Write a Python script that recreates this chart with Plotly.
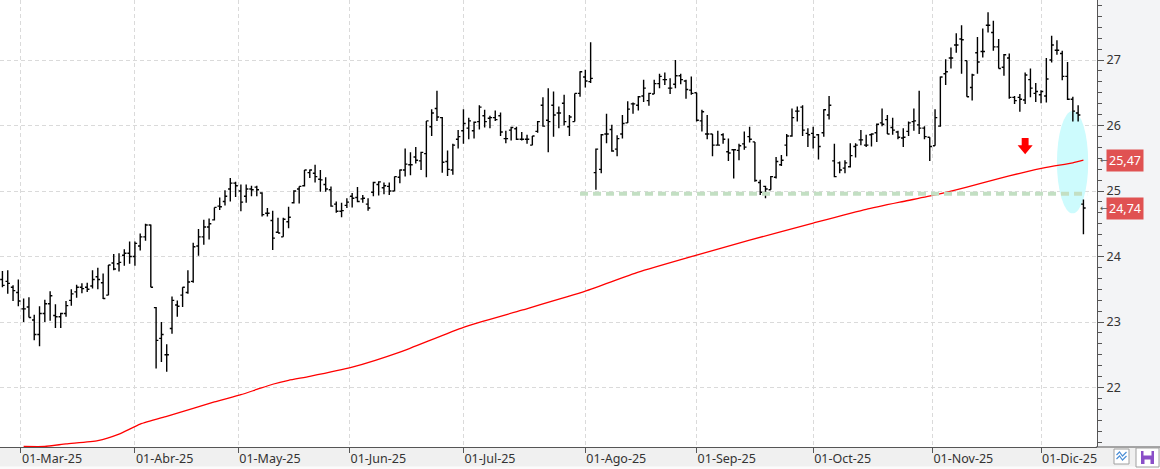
import pandas as pd
import plotly.graph_objects as go

# ---------------- data ----------------
first_session = "2025-02-25"
last_session = "2025-12-11"
market_holidays = ["2025-04-18", "2025-04-21", "2025-05-01"]

opens = [23.65, 23.62, 23.53, 23.45, 23.20, 23.23, 23.03, 22.81, 23.13, 23.28,
         23.10, 23.08, 23.13, 23.33, 23.46, 23.53, 23.53, 23.55, 23.69, 23.60,
         23.41, 23.90, 23.89, 24.02, 24.05, 24.00, 24.16, 24.30, 24.48, 23.22,
         22.75, 22.50, 22.90, 23.26, 23.41, 23.45, 23.62, 24.16, 24.30, 24.45,
         24.56, 24.77, 24.84, 25.03, 25.12, 25.00, 24.92, 25.03, 25.06, 24.97,
         24.66, 24.55, 24.37, 24.30, 24.53, 24.82, 25.03, 25.08, 25.28, 25.27,
         25.18, 25.10, 25.02, 24.80, 24.69, 24.78, 24.92, 24.90, 24.88, 24.80,
         24.98, 25.10, 25.05, 25.07, 25.00, 25.21, 25.32, 25.40, 25.52, 25.46,
         25.57, 25.98, 26.26, 26.12, 25.45, 25.32, 25.79, 25.92, 25.96, 25.92,
         26.06, 26.15, 26.11, 26.12, 26.15, 25.80, 25.93, 25.95, 25.79, 25.79,
         25.70, 25.91, 26.31, 26.08, 26.31, 26.19, 26.34, 25.98, 26.06, 26.49,
         26.74, 26.67, 25.28, 25.33, 25.87, 25.94, 25.64, 25.87, 26.04, 26.33,
         26.31, 26.45, 26.38, 26.48, 26.64, 26.70, 26.57, 26.63, 26.76, 26.68,
         26.54, 26.50, 26.07, 25.87, 25.87, 25.70, 25.86, 25.60, 25.63, 25.62,
         25.72, 25.83, 25.75, 25.13, 25.07, 25.02, 25.21, 25.40, 25.70, 25.84,
         26.22, 26.28, 25.88, 25.88, 25.86, 25.89, 26.16, 25.46, 25.43, 25.35,
         25.37, 25.68, 25.78, 25.70, 25.86, 25.89, 26.04, 26.09, 25.97, 25.90,
         25.81, 25.91, 26.06, 26.01, 25.96, 25.82, 25.69, 25.99, 26.79, 27.03,
         27.23, 27.32, 26.99, 26.58, 27.11, 27.13, 27.53, 27.42, 27.20, 26.89,
         27.03, 26.43, 26.43, 26.39, 26.70, 26.49, 26.47, 26.45, 27.00, 27.15,
         27.10, 26.75, 26.40, 26.19, 24.80]
highs = [23.78, 23.79, 23.56, 23.65, 23.36, 23.38, 23.11, 23.24, 23.34, 23.47,
         23.27, 23.14, 23.32, 23.50, 23.57, 23.59, 23.60, 23.79, 23.83, 23.74,
         23.87, 24.04, 24.05, 24.11, 24.23, 24.23, 24.35, 24.50, 24.49, 23.23,
         23.00, 22.66, 23.39, 23.33, 23.53, 23.79, 24.21, 24.42, 24.56, 24.58,
         24.75, 24.90, 25.01, 25.20, 25.14, 25.10, 25.10, 25.08, 25.08, 24.98,
         24.74, 24.70, 24.59, 24.59, 24.76, 25.01, 25.07, 25.32, 25.33, 25.40,
         25.32, 25.21, 25.07, 24.84, 24.82, 24.89, 24.97, 25.06, 24.94, 24.89,
         25.14, 25.15, 25.13, 25.13, 25.22, 25.33, 25.65, 25.59, 25.67, 25.60,
         26.07, 26.25, 26.53, 26.13, 25.62, 25.72, 25.93, 26.25, 26.12, 26.06,
         26.31, 26.24, 26.15, 26.23, 26.20, 25.92, 25.98, 25.98, 25.90, 25.86,
         25.84, 26.07, 26.43, 26.57, 26.52, 26.29, 26.47, 26.16, 26.49, 26.83,
         26.85, 27.27, 25.65, 25.87, 26.18, 26.01, 25.85, 26.16, 26.37, 26.35,
         26.45, 26.70, 26.50, 26.70, 26.79, 26.81, 26.72, 27.00, 26.79, 26.70,
         26.75, 26.50, 26.24, 26.16, 25.87, 25.92, 25.88, 25.80, 25.64, 25.72,
         25.91, 25.98, 25.75, 25.17, 25.08, 25.23, 25.52, 25.55, 25.87, 26.26,
         26.29, 26.31, 25.96, 25.98, 25.87, 26.25, 26.45, 25.72, 25.45, 25.47,
         25.73, 25.73, 25.93, 25.86, 25.88, 26.03, 26.26, 26.16, 26.12, 25.92,
         25.96, 26.06, 26.26, 26.53, 25.99, 25.82, 26.25, 26.75, 27.01, 27.19,
         27.41, 27.53, 26.99, 26.79, 27.35, 27.48, 27.73, 27.60, 27.32, 27.09,
         27.10, 26.45, 26.48, 26.81, 26.87, 26.65, 26.54, 27.03, 27.37, 27.30,
         27.14, 26.97, 26.44, 26.31, 24.87]
lows = [23.53, 23.43, 23.32, 23.24, 23.00, 23.07, 22.72, 22.63, 23.00, 23.02,
        22.91, 22.91, 23.08, 23.25, 23.37, 23.44, 23.46, 23.51, 23.50, 23.35,
        23.41, 23.79, 23.77, 23.86, 23.89, 23.86, 24.09, 24.24, 23.53, 22.29,
        22.39, 22.24, 22.82, 23.08, 23.23, 23.43, 23.60, 24.01, 24.18, 24.26,
        24.55, 24.71, 24.78, 24.84, 24.91, 24.69, 24.82, 24.92, 24.92, 24.61,
        24.61, 24.10, 24.36, 24.30, 24.43, 24.81, 24.81, 25.07, 25.20, 25.13,
        24.99, 24.99, 24.76, 24.67, 24.60, 24.74, 24.75, 24.83, 24.82, 24.70,
        24.92, 24.93, 24.95, 24.94, 25.00, 25.12, 25.22, 25.24, 25.42, 25.32,
        25.21, 25.84, 26.07, 25.28, 25.23, 25.25, 25.65, 25.72, 25.79, 25.80,
        25.94, 25.97, 25.96, 26.07, 25.84, 25.73, 25.77, 25.78, 25.77, 25.72,
        25.70, 25.89, 25.98, 25.59, 25.83, 25.96, 26.00, 25.84, 26.06, 26.44,
        26.58, 26.65, 25.02, 25.27, 25.73, 25.60, 25.53, 25.80, 26.04, 26.18,
        26.23, 26.36, 26.30, 26.48, 26.57, 26.62, 26.48, 26.57, 26.63, 26.41,
        26.47, 26.06, 25.91, 25.79, 25.53, 25.69, 25.72, 25.46, 25.19, 25.47,
        25.63, 25.74, 25.14, 24.94, 24.89, 25.02, 25.19, 25.38, 25.53, 25.83,
        26.06, 25.84, 25.67, 25.65, 25.48, 25.83, 26.09, 25.21, 25.27, 25.27,
        25.36, 25.51, 25.70, 25.67, 25.68, 25.75, 25.99, 25.87, 25.86, 25.79,
        25.67, 25.84, 25.92, 25.87, 25.79, 25.46, 25.69, 25.98, 26.62, 26.87,
        27.11, 26.79, 26.44, 26.38, 26.79, 27.04, 27.42, 27.14, 26.87, 26.76,
        26.41, 26.33, 26.21, 26.33, 26.43, 26.36, 26.34, 26.35, 26.96, 27.08,
        26.69, 26.39, 26.06, 26.06, 24.34]
closes = [23.56, 23.59, 23.48, 23.32, 23.20, 23.07, 22.81, 23.13, 23.28, 23.40,
          23.08, 23.13, 23.25, 23.43, 23.53, 23.51, 23.50, 23.65, 23.65, 23.36,
          23.87, 23.81, 23.91, 24.05, 24.00, 24.20, 24.30, 24.48, 23.53, 22.72,
          22.81, 22.50, 23.33, 23.24, 23.53, 23.61, 24.15, 24.30, 24.45, 24.50,
          24.75, 24.76, 24.92, 25.12, 25.08, 24.83, 25.03, 25.02, 25.02, 24.64,
          24.66, 24.28, 24.36, 24.57, 24.60, 25.00, 25.07, 25.32, 25.32, 25.22,
          25.17, 25.03, 24.77, 24.69, 24.70, 24.83, 24.89, 24.84, 24.89, 24.74,
          25.13, 25.14, 25.08, 25.00, 25.22, 25.32, 25.41, 25.40, 25.47, 25.59,
          26.07, 26.19, 26.13, 25.44, 25.33, 25.70, 25.83, 26.03, 26.07, 26.05,
          26.28, 26.06, 26.12, 26.09, 25.90, 25.80, 25.97, 25.79, 25.79, 25.79,
          25.84, 26.06, 25.99, 26.06, 26.16, 26.19, 26.06, 26.13, 26.49, 26.82,
          26.68, 26.72, 25.64, 25.86, 25.87, 25.61, 25.80, 26.03, 26.25, 26.33,
          26.44, 26.57, 26.49, 26.64, 26.75, 26.70, 26.57, 26.76, 26.70, 26.55,
          26.49, 26.08, 26.21, 25.87, 25.70, 25.70, 25.79, 25.58, 25.63, 25.69,
          25.67, 25.79, 25.16, 24.98, 25.03, 25.22, 25.45, 25.47, 25.84, 26.12,
          26.22, 25.93, 25.86, 25.82, 25.68, 26.24, 26.31, 25.22, 25.32, 25.43,
          25.54, 25.70, 25.78, 25.70, 25.87, 26.02, 26.02, 25.87, 25.93, 25.82,
          25.82, 26.04, 26.07, 25.96, 25.83, 25.68, 26.12, 26.74, 26.82, 27.03,
          27.23, 27.31, 26.44, 26.77, 26.97, 27.13, 27.53, 27.20, 26.87, 27.08,
          26.43, 26.38, 26.40, 26.77, 26.57, 26.52, 26.52, 26.71, 27.23, 27.15,
          26.75, 26.40, 26.22, 26.16, 24.74]

# long moving average, read at roughly weekly sessions (session number -> value)
ma_day = [4, 8, 12, 18, 22, 26, 31, 36, 40, 45, 48, 51, 54, 58, 66, 75, 87, 98,
          110, 120, 131, 141, 153, 163, 170, 176, 182, 188, 192, 197, 202, 204]
ma_value = [21.10, 21.10, 21.14, 21.19, 21.29, 21.44, 21.56, 21.68, 21.78, 21.89,
            21.97, 22.05, 22.11, 22.17, 22.31, 22.54, 22.92, 23.18, 23.47, 23.76,
            24.02, 24.25, 24.51, 24.72, 24.84, 24.94, 25.06, 25.19, 25.27, 25.36,
            25.43, 25.47]

support_level = 24.96
support_from_day = 109

month_starts = ["2025-03-01", "2025-04-01", "2025-05-01", "2025-06-01", "2025-07-01",
                "2025-08-01", "2025-09-01", "2025-10-01", "2025-11-01", "2025-12-01"]
month_labels = ["01-Mar-25", "01-Abr-25", "01-May-25", "01-Jun-25", "01-Jul-25",
                "01-Ago-25", "01-Sep-25", "01-Oct-25", "01-Nov-25", "01-Dic-25"]

# highlight ellipse and signal arrow (in session / price units)
halo_days = (199.0, 204.9)
halo_prices = (24.66, 26.22)
signal_day = 193.0
signal_top, signal_mid, signal_tip = 25.81, 25.70, 25.56

# ---------------- calendar ----------------
sessions = [d for d in pd.bdate_range(first_session, last_session)
            if d.strftime("%Y-%m-%d") not in market_holidays]
assert len(sessions) == len(closes)
day = list(range(len(sessions)))

tickvals = []
for m in month_starts:
    ts = pd.Timestamp(m)
    i = next(k for k, d in enumerate(sessions) if d >= ts)
    tickvals.append(i if sessions[i] == ts else i - 0.5)

# ---------------- figure ----------------
W, H = 1160, 469
ML, MR, MT, MB = 0, 63, 0, 22
PW, PH = W - ML - MR, H - MT - MB


def px(xp):
    return (xp - ML) / PW


def py(yp):
    return (H - MB - yp) / PH


fig = go.Figure()

fig.add_trace(go.Ohlc(
    x=day, open=opens, high=highs, low=lows, close=closes,
    increasing=dict(line=dict(color="#000000", width=1.4)),
    decreasing=dict(line=dict(color="#000000", width=1.4)),
    tickwidth=0.42, showlegend=False, hoverinfo="skip"))

fig.add_trace(go.Scatter(
    x=ma_day, y=ma_value, mode="lines",
    line=dict(color="#ff0000", width=1.3, shape="spline", smoothing=0.5),
    showlegend=False, hoverinfo="skip"))

fig.add_trace(go.Scatter(
    x=[support_from_day, day[-1] + 0.7], y=[support_level, support_level], mode="lines",
    line=dict(color="#c3dfc3", width=4, dash="8px,5px"), showlegend=False, hoverinfo="skip"))

shapes = []
# right panel
shapes.append(dict(type="rect", xref="paper", yref="paper", x0=1, x1=px(W), y0=0, y1=1,
                   fillcolor="#f3f4f6", line=dict(width=0), layer="below"))
# highlight ellipse
shapes.append(dict(type="circle", xref="x", yref="y", x0=halo_days[0], x1=halo_days[1],
                   y0=halo_prices[0], y1=halo_prices[1], fillcolor="#cdfbfd",
                   line=dict(width=0), layer="between"))
# red down arrow
sw, hw = 0.65, 1.42
arrow = (f"M{signal_day - sw},{signal_top} L{signal_day + sw},{signal_top} "
         f"L{signal_day + sw},{signal_mid} L{signal_day + hw},{signal_mid} "
         f"L{signal_day},{signal_tip} L{signal_day - hw},{signal_mid} "
         f"L{signal_day - sw},{signal_mid} Z")
shapes.append(dict(type="path", xref="x", yref="y", path=arrow, fillcolor="#ff0000",
                   line=dict(width=0), layer="above"))
# bottom-right corner cover (clips last month label) and baseline extension
shapes.append(dict(type="rect", xref="paper", yref="paper", x0=1, x1=px(W), y0=py(H), y1=0,
                   fillcolor="#f0f0f0", line=dict(width=0), layer="above"))
shapes.append(dict(type="line", xref="paper", yref="paper", x0=0.999, x1=px(W), y0=0, y1=0,
                   line=dict(color="#555555", width=1), layer="above"))
shapes.append(dict(type="rect", xref="paper", yref="paper", x0=0, x1=px(W), y0=py(H), y1=py(466.5),
                   fillcolor="#fbfbfb", line=dict(width=0), layer="above"))


def path_px(points, close=False):
    s = "M" + " L".join(f"{px(a)},{py(b)}" for a, b in points)
    return s + (" Z" if close else "")


# icon 1: chart-style toggle
shapes.append(dict(type="rect", xref="paper", yref="paper", x0=px(1114), x1=px(1129),
                   y0=py(464), y1=py(449), fillcolor="#ffffff",
                   line=dict(color="#a0a0a0", width=1), layer="above"))
shapes.append(dict(type="path", xref="paper", yref="paper",
                   path=path_px([(1116.5, 455), (1119.5, 452), (1122.5, 456), (1126.5, 452)]),
                   line=dict(color="#4d8fd6", width=1.2), layer="above"))
shapes.append(dict(type="path", xref="paper", yref="paper",
                   path=path_px([(1116.5, 459), (1119.5, 456), (1122.5, 460), (1126.5, 456)]),
                   line=dict(color="#4d8fd6", width=1.2), layer="above"))
# icon 2: save
shapes.append(dict(type="rect", xref="paper", yref="paper", x0=px(1136), x1=px(1159),
                   y0=py(467), y1=py(448), fillcolor="#ffffff",
                   line=dict(color="#a0a0a0", width=1), layer="above"))
shapes.append(dict(type="rect", xref="paper", yref="paper", x0=px(1141), x1=px(1154),
                   y0=py(464), y1=py(451), fillcolor="#8a4fc8",
                   line=dict(width=0), layer="above"))
shapes.append(dict(type="rect", xref="paper", yref="paper", x0=px(1143.5), x1=px(1151.5),
                   y0=py(455.5), y1=py(451), fillcolor="#ffffff",
                   line=dict(width=0), layer="above"))
shapes.append(dict(type="rect", xref="paper", yref="paper", x0=px(1144.5), x1=px(1150.5),
                   y0=py(464), y1=py(459.5), fillcolor="#ffffff",
                   line=dict(width=0), layer="above"))


def fmt(v):
    return f"{v:.2f}".replace(".", ",")


annotations = []
for val in (ma_value[-1], closes[-1]):
    annotations.append(dict(xref="paper", yref="y", x=px(1106), y=val, xanchor="left",
                            yanchor="middle", text=fmt(val), showarrow=False,
                            bgcolor="#e05252", borderpad=2,
                            font=dict(color="#ffffff", size=12.5, family="Noto Sans")))
    annotations.append(dict(xref="paper", yref="y", x=px(1098), y=val, xanchor="left",
                            yanchor="middle", text="←", showarrow=False,
                            font=dict(color="#555555", size=9, family="DejaVu Sans")))

fig.update_layout(
    width=W, height=H,
    margin=dict(l=ML, r=MR, t=MT, b=MB, pad=0),
    paper_bgcolor="#f0f0f0",
    plot_bgcolor="#ffffff",
    font=dict(family="Noto Sans", color="#333333"),
    showlegend=False,
    shapes=shapes,
    annotations=annotations,
    xaxis=dict(
        range=[-0.46, 206.56], tickmode="array", tickvals=tickvals, ticktext=month_labels,
        ticks="outside", ticklen=5, tickcolor="#555555", showline=True, linecolor="#555555",
        linewidth=1, showgrid=True, gridcolor="#dadada", griddash="4px,3px", gridwidth=1,
        zeroline=False, ticklabelposition="outside right",
        tickfont=dict(size=12.5, color="#333333"), rangeslider=dict(visible=False),
        fixedrange=True),
    yaxis=dict(
        side="right", range=[21.092, 27.916], tick0=0, dtick=1, ticks="outside", ticklen=6,
        tickcolor="#555555", showline=True, linecolor="#555555", linewidth=1,
        showgrid=True, gridcolor="#dadada", griddash="4px,3px", gridwidth=1, zeroline=False,
        tickfont=dict(size=12.5, color="#333333"),
        minor=dict(dtick=1 / 6, tick0=0, ticks="outside", ticklen=4, tickcolor="#555555",
                   showgrid=False),
        fixedrange=True),
)

fig.write_html("out.html")
